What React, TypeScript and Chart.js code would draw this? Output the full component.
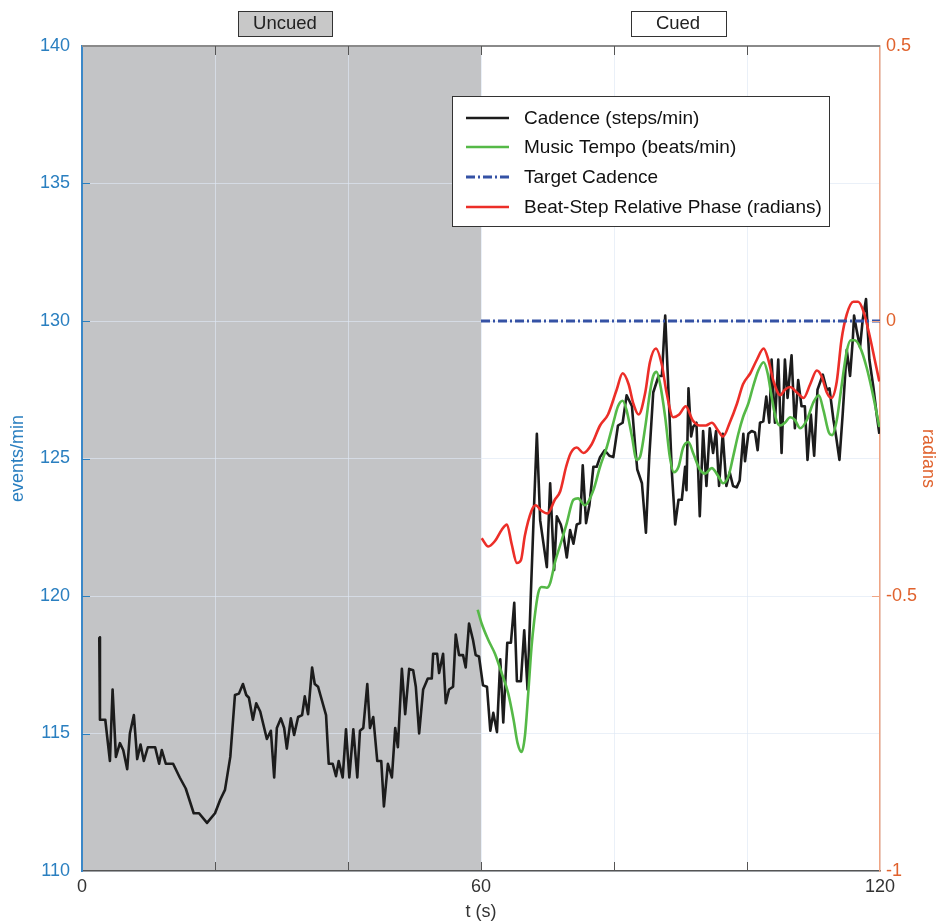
import React, { useEffect, useRef } from "react";
import { Chart, registerables } from "chart.js";

Chart.register(...registerables);

// ---------- data ----------
const cadenceT = [2.6,2.7,3.5,4.2,4.6,5.1,5.7,6.2,6.8,7.2,
7.8,8.3,8.8,9.3,9.9,11.0,11.6,12.0,12.6,13.7,
14.7,15.6,16.8,17.6,18.8,20.0,20.8,21.5,22.3,23.0,
23.6,24.2,24.7,25.1,25.7,26.2,26.8,27.8,28.4,28.9,
29.3,29.9,30.4,30.8,31.4,31.9,32.5,33.1,33.5,34.0,
34.6,35.0,35.5,36.7,37.1,37.7,38.2,38.6,39.2,39.7,
40.2,40.8,41.4,41.8,42.3,42.9,43.3,43.8,44.4,45.0,
45.4,46.0,46.6,47.1,47.5,48.1,48.6,49.2,49.8,50.2,
50.7,51.3,52.0,52.6,52.8,53.4,53.7,54.3,54.7,55.2,
55.8,56.2,56.7,57.3,57.7,58.2,58.8,59.2,59.7,60.3,
60.9,61.4,61.85,62.4,62.9,63.35,63.95,64.5,65.0,65.4,
66.0,66.5,67.0,67.5,68.0,68.4,68.9,69.9,70.4,71.0,
71.4,72.0,72.4,72.9,73.4,73.9,74.4,74.9,75.3,75.8,
76.3,76.9,77.4,77.9,78.6,79.3,79.9,80.6,81.3,81.9,
82.7,83.2,83.5,84.2,84.8,85.3,85.9,86.7,87.2,87.7,
88.2,88.7,89.2,89.7,90.2,90.7,90.9,91.2,91.6,91.9,
92.4,92.9,93.4,93.9,94.4,94.9,95.35,95.8,96.35,96.9,
97.4,97.9,98.45,98.9,99.45,99.7,100.2,100.7,101.2,101.6,
101.95,102.45,102.9,103.35,103.7,104.2,104.7,105.2,105.7,106.1,
106.7,107.2,107.7,108.2,108.7,109.1,109.6,110.1,110.6,111.4,
112.0,112.4,113.0,113.4,113.9,114.4,115.0,115.5,115.9,116.1,
116.5,117.0,117.4,117.9,118.4,119.0,119.5,119.9];

const cadenceV = [118.5,115.5,115.5,114.0,116.6,114.15,114.65,114.4,113.7,115.0,
115.67,114.07,114.6,114.0,114.5,114.5,113.9,114.4,113.9,113.9,
113.4,113.0,112.1,112.1,111.75,112.1,112.6,112.95,114.15,116.4,
116.45,116.8,116.4,116.3,115.5,116.1,115.8,114.8,115.1,113.4,
115.2,115.55,115.2,114.45,115.55,114.95,115.6,115.67,116.35,115.7,
117.4,116.8,116.7,115.67,113.9,113.9,113.45,114.0,113.4,115.15,
113.4,115.15,113.4,115.1,115.2,116.8,115.2,115.6,114.0,114.0,
112.35,113.9,113.4,115.2,114.5,117.35,115.7,117.35,117.3,116.7,
115.0,116.6,117.0,117.0,117.9,117.9,117.2,117.9,116.1,116.6,
116.7,118.6,117.85,117.85,117.4,119.0,118.4,117.85,117.8,116.75,
116.7,115.1,115.75,115.05,117.7,115.4,118.3,118.3,119.75,116.9,
116.9,118.75,116.6,120.1,123.4,125.9,122.75,121.05,124.1,120.95,
122.9,122.6,122.2,121.4,122.4,121.9,122.6,122.65,124.75,122.65,
123.3,124.7,124.7,125.05,125.3,125.1,125.05,126.2,126.3,127.3,
126.9,125.4,124.6,124.1,122.3,125.05,127.4,128.0,128.0,130.2,
127.4,124.5,122.6,123.5,123.5,124.7,123.85,127.55,125.8,126.15,
126.3,122.9,126.0,124.0,126.1,125.2,126.0,124.0,125.9,124.0,
124.5,124.0,123.95,124.2,125.9,124.9,125.9,126.0,125.95,125.3,
126.3,126.35,127.25,126.3,128.6,126.3,128.6,125.2,128.6,127.2,
128.75,126.1,127.85,126.9,126.9,124.95,126.6,125.1,127.5,128.05,
127.5,127.55,126.4,125.8,124.95,126.65,128.95,128.0,129.3,130.2,
129.65,129.05,130.05,130.8,128.6,127.6,126.6,125.9];

const tempoT = [59.5,60.1,61.1,62.1,63.1,64.1,64.9,65.5,66.1,66.6,
67.1,67.6,68.0,68.6,69.1,69.9,70.4,71.1,72.1,72.9,
73.9,74.6,75.6,76.9,77.9,78.9,79.9,80.6,81.3,81.9,
82.7,83.4,83.9,84.7,85.4,85.9,86.4,86.9,87.7,88.4,
89.0,89.7,90.4,91.2,91.9,92.9,93.7,94.7,95.7,96.4,
97.2,97.9,98.7,99.4,100.2,100.9,101.7,102.5,103.1,103.7,
104.4,105.0,105.7,106.5,107.2,108.0,109.0,110.0,110.8,111.5,
112.3,112.8,113.5,114.2,115.0,115.6,116.2,117.0,118.0,119.0,119.9];

const tempoV = [119.5,119.0,118.4,117.9,117.2,116.45,115.5,114.65,114.33,114.9,
116.45,118.15,119.1,120.1,120.33,120.3,120.47,121.2,122.0,122.65,
123.5,123.55,123.3,123.85,124.7,125.4,126.3,126.9,127.1,126.75,
125.8,124.95,125.05,126.15,127.4,128.0,128.15,127.75,126.5,125.05,
124.5,124.7,125.4,125.6,125.2,124.6,124.45,124.65,124.35,124.1,
124.35,125.05,125.9,126.5,127.0,127.6,128.2,128.5,128.1,127.25,
126.4,126.2,126.3,126.5,126.4,126.1,126.4,127.05,127.3,126.75,
125.95,125.85,126.4,127.6,128.9,129.3,129.3,129.05,128.3,127.25,126.15];

const phaseT = [60.1,61.1,62.1,63.1,63.9,64.6,65.4,66.0,66.6,67.6,
68.2,69.1,70.0,71.1,71.9,72.8,73.5,74.4,75.4,76.6,
77.9,79.1,80.4,81.3,82.2,82.9,83.7,84.7,85.4,86.3,
87.2,87.9,88.9,89.8,90.8,91.8,92.9,93.8,94.7,95.7,
96.4,97.4,98.5,99.4,100.5,101.5,102.5,103.2,104.0,105.0,
105.7,106.5,107.5,108.5,109.5,110.5,111.2,112.0,112.7,113.5,
114.2,115.0,116.0,116.7,117.5,118.5,119.2,119.9];

const phaseV = [-0.395,-0.41,-0.40,-0.38,-0.37,-0.405,-0.44,-0.435,-0.39,-0.345,
-0.335,-0.345,-0.35,-0.325,-0.31,-0.265,-0.24,-0.23,-0.24,-0.225,
-0.19,-0.17,-0.125,-0.095,-0.115,-0.15,-0.17,-0.13,-0.075,-0.05,
-0.08,-0.13,-0.175,-0.17,-0.155,-0.18,-0.19,-0.19,-0.185,-0.2,
-0.21,-0.185,-0.15,-0.115,-0.095,-0.07,-0.05,-0.07,-0.11,-0.135,
-0.125,-0.12,-0.13,-0.14,-0.115,-0.09,-0.10,-0.13,-0.14,-0.11,
-0.035,0.012,0.035,0.035,0.018,-0.03,-0.07,-0.11];

const targetT = [60, 120];
const targetV = [130, 130];

const seriesLabels = [
  "Cadence (steps/min)",
  "Music Tempo (beats/min)",
  "Target Cadence",
  "Beat-Step Relative Phase (radians)",
];
const xLabelled = [0, 60, 120];
const segmentNames = ["Uncued", "Cued"];
const uncuedRange = [0, 60];

// ---------- styling ----------
const SANS = "'Liberation Sans', Arial, Helvetica, sans-serif";
const BLUE_AX = "#2a7fc0";
const ORANGE_AX = "#e0622d";
const GRID = "rgba(222,232,244,0.65)";

export default function App() {
  const ref = useRef<HTMLCanvasElement>(null);

  useEffect(() => {
    const canvas = ref.current;
    if (!canvas) return;
    const pts = (t: number[], v: number[]) => t.map((x, i) => ({ x, y: v[i] }));

    const decor = {
      id: "decor",
      beforeDraw(chart: any) {
        const { ctx, chartArea, scales } = chart;
        const x0 = scales.x.getPixelForValue(uncuedRange[0]);
        const x1 = scales.x.getPixelForValue(uncuedRange[1]);
        ctx.save();
        ctx.fillStyle = "#c3c4c6";
        ctx.fillRect(x0, chartArea.top, x1 - x0, chartArea.bottom - chartArea.top);
        ctx.restore();
      },
      afterDraw(chart: any) {
        const { ctx, chartArea, scales } = chart;
        const { left, right, top, bottom } = chartArea;
        ctx.save();
        // top frame
        ctx.strokeStyle = "#8a8a8a";
        ctx.lineWidth = 2;
        ctx.beginPath();
        ctx.moveTo(left, top);
        ctx.lineTo(right, top);
        ctx.stroke();
        // inward ticks on x (top & bottom)
        ctx.strokeStyle = "#555";
        ctx.lineWidth = 1;
        for (let v = 20; v < 120; v += 20) {
          const px = Math.round(scales.x.getPixelForValue(v)) + 0.5;
          ctx.beginPath();
          ctx.moveTo(px, bottom);
          ctx.lineTo(px, bottom - 9);
          ctx.moveTo(px, top);
          ctx.lineTo(px, top + 9);
          ctx.stroke();
        }
        // left ticks
        ctx.strokeStyle = BLUE_AX;
        for (let v = 115; v < 140; v += 5) {
          const py = Math.round(scales.y.getPixelForValue(v)) + 0.5;
          ctx.beginPath();
          ctx.moveTo(left, py);
          ctx.lineTo(left + 8, py);
          ctx.stroke();
        }
        // right ticks
        ctx.strokeStyle = "#f0a584";
        for (const v of [-0.5, 0]) {
          const py = Math.round(scales.y1.getPixelForValue(v)) + 0.5;
          ctx.beginPath();
          ctx.moveTo(right, py);
          ctx.lineTo(right - 8, py);
          ctx.stroke();
        }

        // segment label boxes
        const boxes = [
          { cx: 285, w: 94, fill: "#c8c8c8", text: segmentNames[0] },
          { cx: 678, w: 95, fill: "#ffffff", text: segmentNames[1] },
        ];
        for (const b of boxes) {
          ctx.fillStyle = b.fill;
          ctx.fillRect(b.cx - b.w / 2, 11, b.w, 25);
          ctx.strokeStyle = "#333";
          ctx.lineWidth = 1;
          ctx.strokeRect(Math.round(b.cx - b.w / 2) + 0.5, 11.5, b.w, 25);
          ctx.fillStyle = "#222";
          ctx.font = `18.5px ${SANS}`;
          ctx.textAlign = "center";
          ctx.textBaseline = "middle";
          ctx.fillText(b.text, b.cx, 24);
        }

        // legend
        const lx = 452.5, ly = 96.5, lw = 377, lh = 130;
        ctx.fillStyle = "#fff";
        ctx.fillRect(lx, ly, lw, lh);
        ctx.strokeStyle = "#333";
        ctx.lineWidth = 1;
        ctx.strokeRect(lx, ly, lw, lh);
        const rows = [118, 147, 177, 207];
        [0, 1, 2, 3].forEach((di, i) => {
          const ds = chart.data.datasets[di];
          ctx.save();
          ctx.strokeStyle = ds.borderColor;
          ctx.lineWidth = ds.borderWidth;
          ctx.setLineDash(ds.borderDash || []);
          ctx.beginPath();
          ctx.moveTo(466, rows[i]);
          ctx.lineTo(509, rows[i]);
          ctx.stroke();
          ctx.restore();
          ctx.fillStyle = "#111";
          ctx.font = `19px ${SANS}`;
          ctx.textAlign = "left";
          ctx.textBaseline = "middle";
          ctx.fillText(ds.label, 524, rows[i] + 1);
        });
        ctx.restore();
      },
    };

    const chart = new Chart(canvas, {
      type: "line",
      data: {
        datasets: [
          {
            label: seriesLabels[0],
            data: pts(cadenceT, cadenceV),
            borderColor: "#1c1c1c",
            borderWidth: 2.6,
            borderJoinStyle: "round",
            pointRadius: 0,
            tension: 0,
            yAxisID: "y",
            order: 4,
          },
          {
            label: seriesLabels[1],
            data: pts(tempoT, tempoV),
            borderColor: "#55b947",
            borderWidth: 2.6,
            borderJoinStyle: "round",
            pointRadius: 0,
            cubicInterpolationMode: "monotone",
            yAxisID: "y",
            order: 3,
          },
          {
            label: seriesLabels[2],
            data: pts(targetT, targetV),
            borderColor: "#3552a5",
            borderWidth: 3.2,
            borderDash: [9, 3, 2, 3],
            pointRadius: 0,
            yAxisID: "y",
            order: 1,
          },
          {
            label: seriesLabels[3],
            data: pts(phaseT, phaseV),
            borderColor: "#ec2e28",
            borderWidth: 2.6,
            borderJoinStyle: "round",
            pointRadius: 0,
            cubicInterpolationMode: "monotone",
            yAxisID: "y1",
            order: 2,
          },
        ],
      },
      options: {
        responsive: false,
        animation: false,
        events: [],
        layout: { padding: { top: 46, left: 0, right: 0, bottom: 0 } },
        plugins: { legend: { display: false }, tooltip: { enabled: false } },
        scales: {
          x: {
            type: "linear",
            min: 0,
            max: 120,
            afterFit: (s: any) => {
              s.height = 52;
            },
            ticks: {
              stepSize: 20,
              autoSkip: false,
              maxRotation: 0,
              callback: (v: any) => (xLabelled.includes(Number(v)) ? String(Number(v)) : ""),
              color: "#333",
              font: { family: SANS, size: 18 },
              padding: 5,
            },
            grid: { color: GRID, drawTicks: false, lineWidth: 1 },
            border: { color: "#555", width: 1.5 },
            title: {
              display: true,
              text: "t (s)",
              color: "#333",
              font: { family: SANS, size: 18 },
              padding: { top: 0, bottom: 0 },
            },
          },
          y: {
            position: "left",
            min: 110,
            max: 140,
            afterFit: (s: any) => {
              s.width = 82;
            },
            ticks: {
              stepSize: 5,
              color: BLUE_AX,
              font: { family: SANS, size: 18 },
              padding: 12,
              callback: (v: any) => String(Number(v)),
            },
            grid: { color: GRID, drawTicks: false, lineWidth: 1 },
            border: { color: "#3b88c8", width: 2 },
            title: {
              display: true,
              text: "events/min",
              color: BLUE_AX,
              font: { family: SANS, size: 18 },
              padding: { top: 7, bottom: 0 },
            },
          },
          y1: {
            position: "right",
            min: -1,
            max: 0.5,
            afterFit: (s: any) => {
              s.width = 64;
            },
            ticks: {
              stepSize: 0.5,
              color: ORANGE_AX,
              font: { family: SANS, size: 18 },
              padding: 6,
              callback: (v: any) => String(Number(v)),
            },
            grid: { display: false, drawTicks: false },
            border: { color: "#f0a584", width: 1.5 },
            title: {
              display: true,
              text: "radians",
              color: ORANGE_AX,
              font: { family: SANS, size: 18 },
              padding: { top: 5, bottom: 0 },
            },
          },
        },
      },
      plugins: [decor],
    } as any);

    return () => chart.destroy();
  }, []);

  return (
    <div style={{ position: "fixed", left: 0, top: 0, width: 944, height: 923, background: "#fff" }}>
      <canvas ref={ref} width={944} height={923} style={{ width: 944, height: 923, display: "block" }} />
    </div>
  );
}
